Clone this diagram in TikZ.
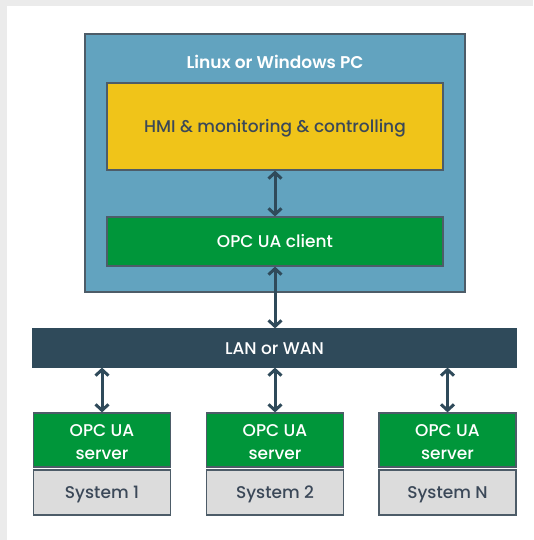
\documentclass[tikz,border=0pt]{standalone}
\usepackage{fontspec}
\setmainfont{Poppins}[UprightFont=* Medium, BoldFont=* SemiBold]
\usepackage{xcolor}
\usepackage{tikz}
\usetikzlibrary{positioning}
\usetikzlibrary{arrows.meta}

\definecolor{pcblue}{HTML}{62A3BF}
\definecolor{hmiyellow}{HTML}{F0C419}
\definecolor{opcgreen}{HTML}{00963A}
\definecolor{netdark}{HTML}{2F4A5A}
\definecolor{sysgrey}{HTML}{DCDCDC}
\definecolor{edgegrey}{HTML}{4D5C68}
\definecolor{textdark}{HTML}{3B4858}
\definecolor{canvas}{HTML}{EBEBEB}

\begin{document}
\begin{tikzpicture}[
    x=1pt, y=-1pt,
    font=\fontsize{17}{23}\selectfont,
    block/.style={
        rectangle,
        draw=edgegrey,
        line width=1.2pt,
        inner sep=0pt,
        text height=12pt,
        text depth=0pt,
        text centered
    },
    pcbox/.style={
        block,
        fill=pcblue,
        minimum width=380pt,
        minimum height=258pt
    },
    app/.style={
        block,
        fill=hmiyellow,
        text=textdark,
        minimum width=336pt,
        minimum height=87pt
    },
    client/.style={
        block,
        fill=opcgreen,
        text=white,
        minimum width=336pt,
        minimum height=49pt
    },
    network/.style={
        block,
        draw=netdark,
        fill=netdark,
        text=white,
        minimum width=483pt,
        minimum height=38pt
    },
    server/.style={
        block,
        fill=opcgreen,
        text=white,
        align=center,
        text height=38pt,
        minimum width=137pt,
        minimum height=54pt
    },
    system/.style={
        block,
        fill=sysgrey,
        text=textdark,
        minimum width=137pt,
        minimum height=45pt
    },
    link/.style={
        {Straight Barb[length=6pt,width=13pt]}-{Straight Barb[length=6pt,width=13pt]},
        line width=3pt,
        draw=netdark
    }
]

% canvas and page
\useasboundingbox (0,0) rectangle (533,540);
\fill[canvas] (0,0) rectangle (533,540);
\fill[white] (7,6) rectangle (533,540);

% PC with its software
\node[pcbox] (pc) at (275,163) {};
\node[text=white, inner sep=0pt, text height=12pt, text depth=0pt,
      font=\fontsize{17}{23}\selectfont\bfseries] (pctitle) at (275,63) {Linux or Windows PC};
\node[app] (hmi) at (275,126.5) {HMI \& monitoring \& controlling};
\node[client] (client) at (275,241.5) {OPC UA client};

% network
\node[network] (lan) at (274.5,348) {LAN or WAN};

% field systems
\node[server] (srv1) at (102,440) {OPC UA\\server};
\node[server] (srv2) at (275,440) {OPC UA\\server};
\node[server] (srvN) at (447.5,440) {OPC UA\\server};
\node[system] (sys1) at (102,492.5) {System 1};
\node[system] (sys2) at (275,492.5) {System 2};
\node[system] (sysN) at (447.5,492.5) {System N};

\draw[link] (hmi) -- (client);
\draw[link] (client.south) -- (client.south |- lan.north);
\draw[link] (srv1.north |- lan.south) -- (srv1.north);
\draw[link] (srv2.north |- lan.south) -- (srv2.north);
\draw[link] (srvN.north |- lan.south) -- (srvN.north);

\end{tikzpicture}
\end{document}
